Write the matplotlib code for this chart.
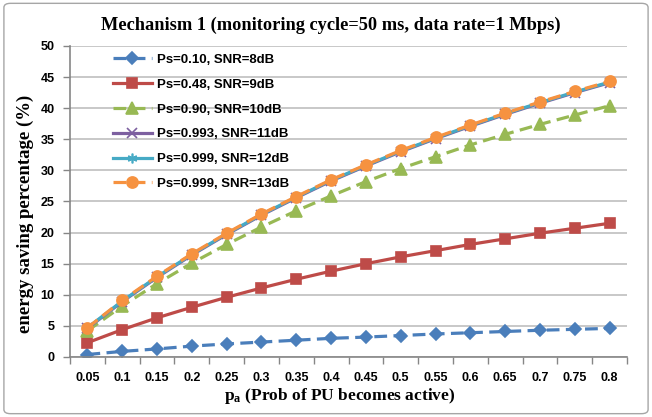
import numpy as np
import matplotlib
matplotlib.use("Agg")
import matplotlib.pyplot as plt
from matplotlib.patches import FancyBboxPatch

plt.rcParams['mathtext.fontset'] = 'custom'
plt.rcParams['mathtext.bf'] = 'Liberation Serif:bold'
plt.rcParams['mathtext.rm'] = 'Liberation Serif:bold'

# probability that the PU becomes active
pa_labels = ["0.05", "0.1", "0.15", "0.2", "0.25", "0.3", "0.35", "0.4",
             "0.45", "0.5", "0.55", "0.6", "0.65", "0.7", "0.75", "0.8"]

# energy saving (%) per sensing setup
snr8 = [0.4, 0.9, 1.3, 1.75, 2.1, 2.4, 2.7, 3.0, 3.2, 3.45, 3.7, 3.9, 4.1, 4.3, 4.45, 4.6]
snr9 = [2.3, 4.4, 6.3, 8.0, 9.6, 11.1, 12.5, 13.8, 15.0, 16.1, 17.1, 18.1, 19.0, 19.9, 20.7, 21.5]
snr10 = [4.2, 8.2, 11.8, 15.1, 18.1, 20.9, 23.5, 25.9, 28.2, 30.3, 32.2, 34.1, 35.8, 37.4, 38.9, 40.4]
snr11 = [4.6, 8.9, 12.8, 16.4, 19.7, 22.8, 25.6, 28.3, 30.7, 33.0, 35.1, 37.1, 39.0, 40.8, 42.5, 44.1]
snr12 = [4.7, 9.0, 12.9, 16.5, 19.8, 22.9, 25.7, 28.4, 30.8, 33.1, 35.2, 37.2, 39.1, 40.9, 42.6, 44.2]
snr13 = [4.7, 9.1, 13.0, 16.6, 19.9, 23.0, 25.8, 28.5, 30.9, 33.2, 35.3, 37.3, 39.2, 41.0, 42.7, 44.3]

names = ["Ps=0.10, SNR=8dB", "Ps=0.48, SNR=9dB", "Ps=0.90, SNR=10dB",
         "Ps=0.993, SNR=11dB", "Ps=0.999, SNR=12dB", "Ps=0.999, SNR=13dB"]

fig = plt.figure(figsize=(6.52, 4.17), dpi=100)
ax = fig.add_axes([0.1074, 0.1439, 0.8543, 0.7458])

# rounded outer frame
fig.patches.append(FancyBboxPatch((0.006, 0.008), 0.988, 0.984,
                                  boxstyle="round,pad=0,rounding_size=0.01",
                                  transform=fig.transFigure, fill=False,
                                  edgecolor="#A6A6A6", linewidth=1.0))

x = np.arange(1, len(pa_labels) + 1)
dash = (0, (4, 2))
styles = [
    (snr8, "#4A7EBB", dash, "D", 6.5),
    (snr9, "#BE4B48", "-", "s", 7.5),
    (snr10, "#98B954", dash, "^", 8),
    (snr11, "#7D60A0", "-", "x", 7),
    (snr12, "#46AAC5", "-", (6, 2, 0), 7),
    (snr13, "#F69240", dash, "o", 8),
]
for (vals, col, ls, mk, ms), name in zip(styles, names):
    ax.plot(x, vals, color=col, linestyle=ls, linewidth=2.3, marker=mk,
            markersize=ms, markerfacecolor=col, markeredgecolor=col,
            markeredgewidth=1.2, label=name)

ax.set_xlim(0.5, len(pa_labels) + 0.5)
ax.set_ylim(0, 50)
ax.set_yticks(np.arange(0, 51, 5))
ax.yaxis.grid(True, color="#BFBFBF", linewidth=1.2)
ax.set_axisbelow(True)

ax.set_xticks(x)
ax.set_xticklabels(pa_labels)
ax.set_xticks(np.arange(0.5, len(pa_labels) + 1, 1), minor=True)
ax.tick_params(axis="x", which="major", length=0, pad=11)
ax.tick_params(axis="x", which="minor", length=5, color="#868686", width=1)
ax.tick_params(axis="y", length=5, color="#868686", width=1, pad=6)
for lab in ax.get_xticklabels() + ax.get_yticklabels():
    lab.set_fontfamily("Liberation Sans")
    lab.set_fontweight("bold")
    lab.set_fontsize(9)

for side in ["top", "right"]:
    ax.spines[side].set_visible(False)
for side in ["left", "bottom"]:
    ax.spines[side].set_color("#868686")
    ax.spines[side].set_linewidth(1.2)

fig.text(0.508, 0.94, "Mechanism 1 (monitoring cycle=50 ms, data rate=1 Mbps)",
         ha="center", va="center", family="Liberation Serif", weight="bold",
         fontsize=13.2)
fig.text(0.039, 0.487, "energy saving percentage (%)", rotation=90,
         ha="center", va="center", family="Liberation Serif", weight="bold",
         fontsize=13.5)
fig.text(0.5215, 0.05, r"$\mathbf{p_a}$ (Prob of PU becomes active)",
         ha="center", va="center", family="Liberation Serif", weight="bold",
         fontsize=12.5)

leg = ax.legend(loc="upper left", bbox_to_anchor=(0.055, 1.013), frameon=False,
                handlelength=3.0, handletextpad=0.4, labelspacing=0.95,
                prop={"family": "Liberation Sans", "weight": "bold", "size": 9.5})

fig.savefig("out.png", dpi=100)
